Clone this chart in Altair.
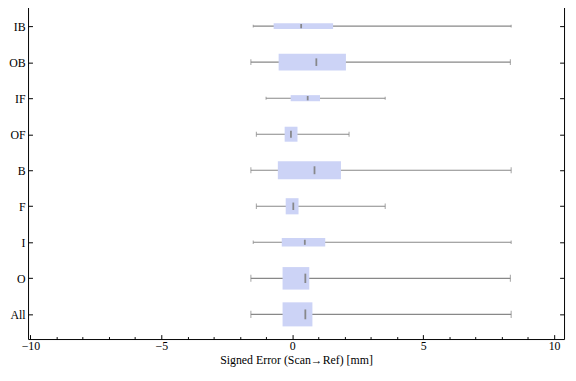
import altair as alt
import pandas as pd

# ---- data ----
categories = ["IB", "OB", "IF", "OF", "B", "F", "I", "O", "All"]
whisker_lo = [-1.49, -1.58, -1.00, -1.37, -1.58, -1.37, -1.49, -1.58, -1.58]
q1 = [-0.71, -0.52, -0.06, -0.29, -0.55, -0.25, -0.40, -0.37, -0.37]
median = [0.34, 0.92, 0.59, -0.05, 0.85, 0.04, 0.48, 0.50, 0.50]
q3 = [1.56, 2.05, 1.06, 0.20, 1.86, 0.24, 1.26, 0.65, 0.77]
whisker_hi = [8.36, 8.33, 3.55, 2.17, 8.36, 3.55, 8.36, 8.33, 8.36]
counts = [36, 290, 38, 230, 326, 268, 74, 520, 594]  # relative sample sizes (box thickness)

major_ticks = [-10, -5, 0, 5, 10]
minor_ticks = [v for v in range(-10, 11) if v % 5 != 0]
x_title = "Signed Error (Scan\u2192Ref) [mm]"

df = pd.DataFrame({
    "cat": categories, "lo": whisker_lo, "q1": q1, "med": median,
    "q3": q3, "hi": whisker_hi, "n": counts,
})

W, H = 543, 342
FONT = "Liberation Serif"
BOX = "#ccd3f6"
GRAY = "#888888"

xscale = alt.Scale(domain=[-10.09, 10.38], nice=False, zero=False)
yscale = alt.Scale(type="point", domain=categories, padding=0.685, align=0.5)


def inner_x(orient, values, size):
    return alt.Axis(orient=orient, offset=-H, values=values, tickSize=size,
                    labels=False, domain=False, title=None, grid=False)


whisk = alt.Chart(df).mark_rule(color=GRAY, strokeWidth=1.1).encode(
    x=alt.X("lo:Q", scale=xscale, axis=inner_x("top", major_ticks, 4.5)),
    x2="hi:Q",
    y=alt.Y("cat:N", scale=yscale,
            axis=alt.Axis(orient="right", offset=-W, tickSize=4.5, labels=False,
                          domain=False, title=None, grid=False)),
)

box = alt.Chart(df).mark_bar(color=BOX).encode(
    x=alt.X("q1:Q", scale=xscale,
            axis=alt.Axis(orient="bottom", values=major_ticks, ticks=False, tickSize=0,
                          labelPadding=1.5, title=x_title, titlePadding=3, domain=True,
                          grid=False, labelFlush=False)),
    x2="q3:Q",
    y=alt.Y("cat:N", scale=yscale,
            axis=alt.Axis(orient="left", ticks=False, tickSize=0, labelPadding=3,
                          title=None, domain=True, grid=False)),
    size=alt.Size("n:Q", scale=alt.Scale(type="sqrt", domain=[0, 600], range=[0, 24.5]),
                  legend=None),
)

cap_lo = alt.Chart(df).mark_tick(color=GRAY, thickness=1.1).encode(
    x=alt.X("lo:Q", scale=xscale, axis=inner_x("top", minor_ticks, 2.5)),
    y=alt.Y("cat:N", scale=yscale,
            axis=alt.Axis(orient="left", offset=-W, tickSize=4.5, labels=False,
                          domain=True, title=None, grid=False)),
    size=alt.Size("n:Q", scale=alt.Scale(type="sqrt", domain=[0, 600], range=[1.5, 7.5]),
                  legend=None),
)

cap_hi = alt.Chart(df).mark_tick(color=GRAY, thickness=1.1).encode(
    x=alt.X("hi:Q", scale=xscale, axis=inner_x("bottom", major_ticks, 4.5)),
    y=alt.Y("cat:N", scale=yscale, axis=None),
    size=alt.Size("n:Q", scale=alt.Scale(type="sqrt", domain=[0, 600], range=[1.5, 7.5]),
                  legend=None),
)

med = alt.Chart(df).mark_tick(color="#808080", thickness=1.8, opacity=0.9).encode(
    x=alt.X("med:Q", scale=xscale, axis=inner_x("bottom", minor_ticks, 2.5)),
    y=alt.Y("cat:N", scale=yscale, axis=None),
    size=alt.Size("n:Q", scale=alt.Scale(type="sqrt", domain=[0, 600], range=[2.5, 10]),
                  legend=None),
)

chart = (
    alt.layer(whisk, box, cap_lo, cap_hi, med)
    .resolve_axis(x="independent", y="independent")
    .resolve_scale(size="independent")
    .properties(width=W, height=H,
                autosize=alt.AutoSizeParams(type="none"),
                padding={"left": 20.3, "top": -9, "right": 4, "bottom": 29})
    .configure_view(stroke=None)
    .configure_axis(labelFont=FONT, titleFont=FONT, labelFontSize=12, titleFontSize=12,
                    labelColor="black", titleColor="black", titleFontWeight="normal",
                    domainColor="black", tickColor="black", domainWidth=1, tickWidth=1)
)

chart.save("out.html", embed_options={"renderer": "svg", "actions": False})
